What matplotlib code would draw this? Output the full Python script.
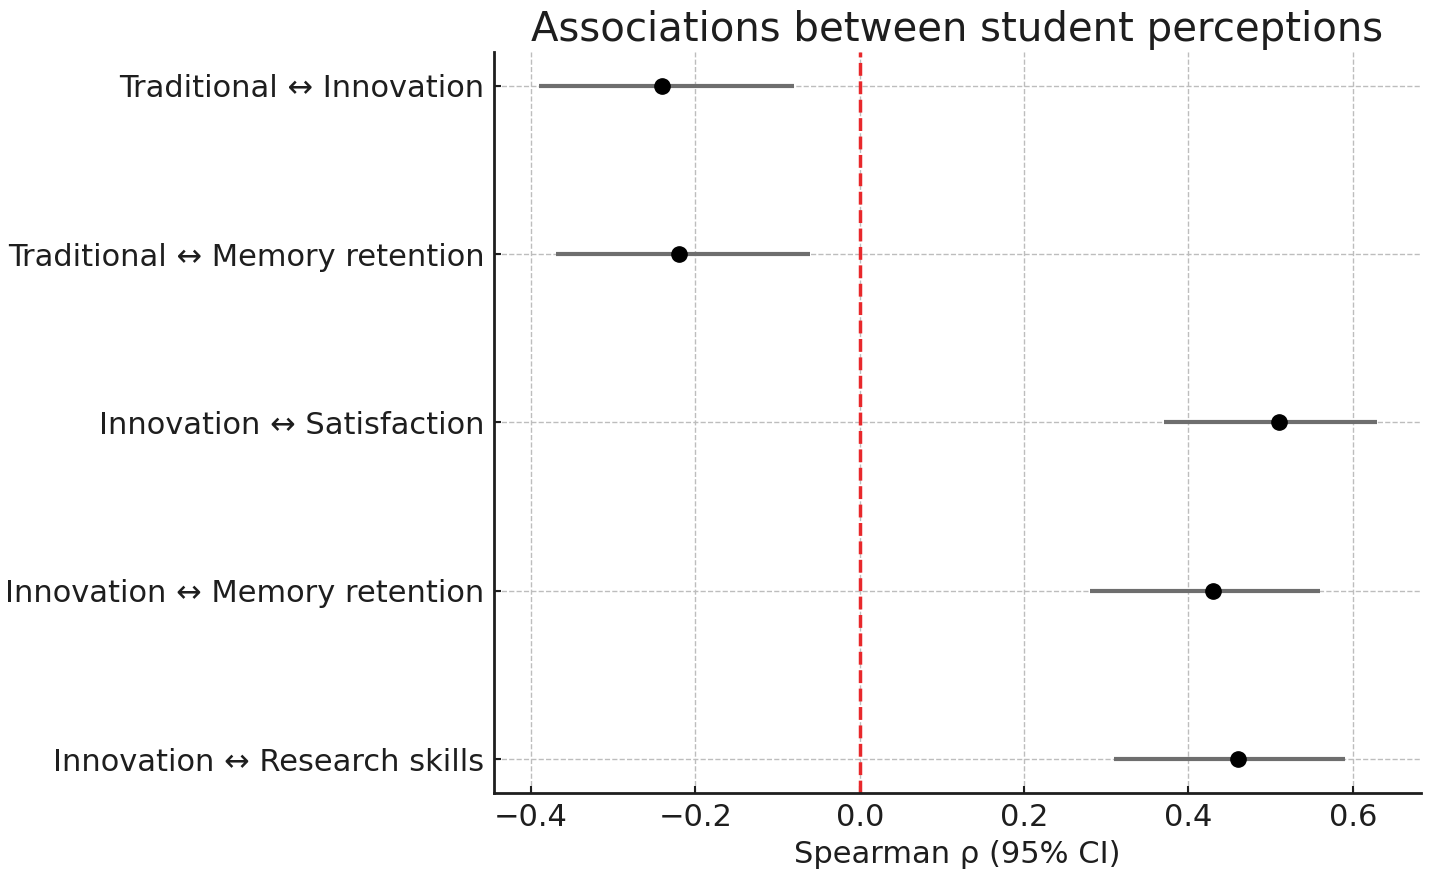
import matplotlib
matplotlib.use("Agg")
import matplotlib.pyplot as plt

labels = ["Traditional ↔ Innovation",
          "Traditional ↔ Memory retention",
          "Innovation ↔ Satisfaction",
          "Innovation ↔ Memory retention",
          "Innovation ↔ Research skills"]
rho = [-0.24, -0.22, 0.51, 0.43, 0.46]
ci_low = [-0.39, -0.37, 0.37, 0.28, 0.31]
ci_high = [-0.08, -0.06, 0.63, 0.56, 0.59]

txt = '#1e1e1e'
fig = plt.figure(figsize=(14.29, 8.77), dpi=100)
ax = fig.add_axes([0.3457, 0.0958, 0.6487, 0.8449])

ypos = list(range(len(labels)))
xerr = [[r - l for r, l in zip(rho, ci_low)], [h - r for r, h in zip(rho, ci_high)]]
ax.errorbar(rho, ypos, xerr=xerr, fmt='o', color='black', ecolor='#6e6e6e',
            elinewidth=3, markersize=11, capsize=0, zorder=3)
ax.axvline(0, color='#e8282b', linestyle='--', linewidth=2.5, zorder=2)

ax.set_yticks(ypos)
ax.set_yticklabels(labels)
ax.set_ylim(len(labels) - 1 + 0.2, -0.2)
ax.set_xlim(-0.445, 0.683)
ax.set_xticks([-0.4, -0.2, 0.0, 0.2, 0.4, 0.6])
ax.grid(True, linestyle='--', color='#bdbdbd', linewidth=1)
ax.set_axisbelow(True)
for s in ['top', 'right']:
    ax.spines[s].set_visible(False)
for s in ['left', 'bottom']:
    ax.spines[s].set_linewidth(2)
    ax.spines[s].set_color(txt)
ax.tick_params(labelsize=22, width=1.5, length=5, colors=txt, pad=7, direction='in')
ax.set_xlabel("Spearman ρ (95% CI)", fontsize=22, color=txt, labelpad=6)
ax.set_title("Associations between student perceptions", fontsize=29, color=txt, pad=8)

fig.savefig("out.png", dpi=100)
